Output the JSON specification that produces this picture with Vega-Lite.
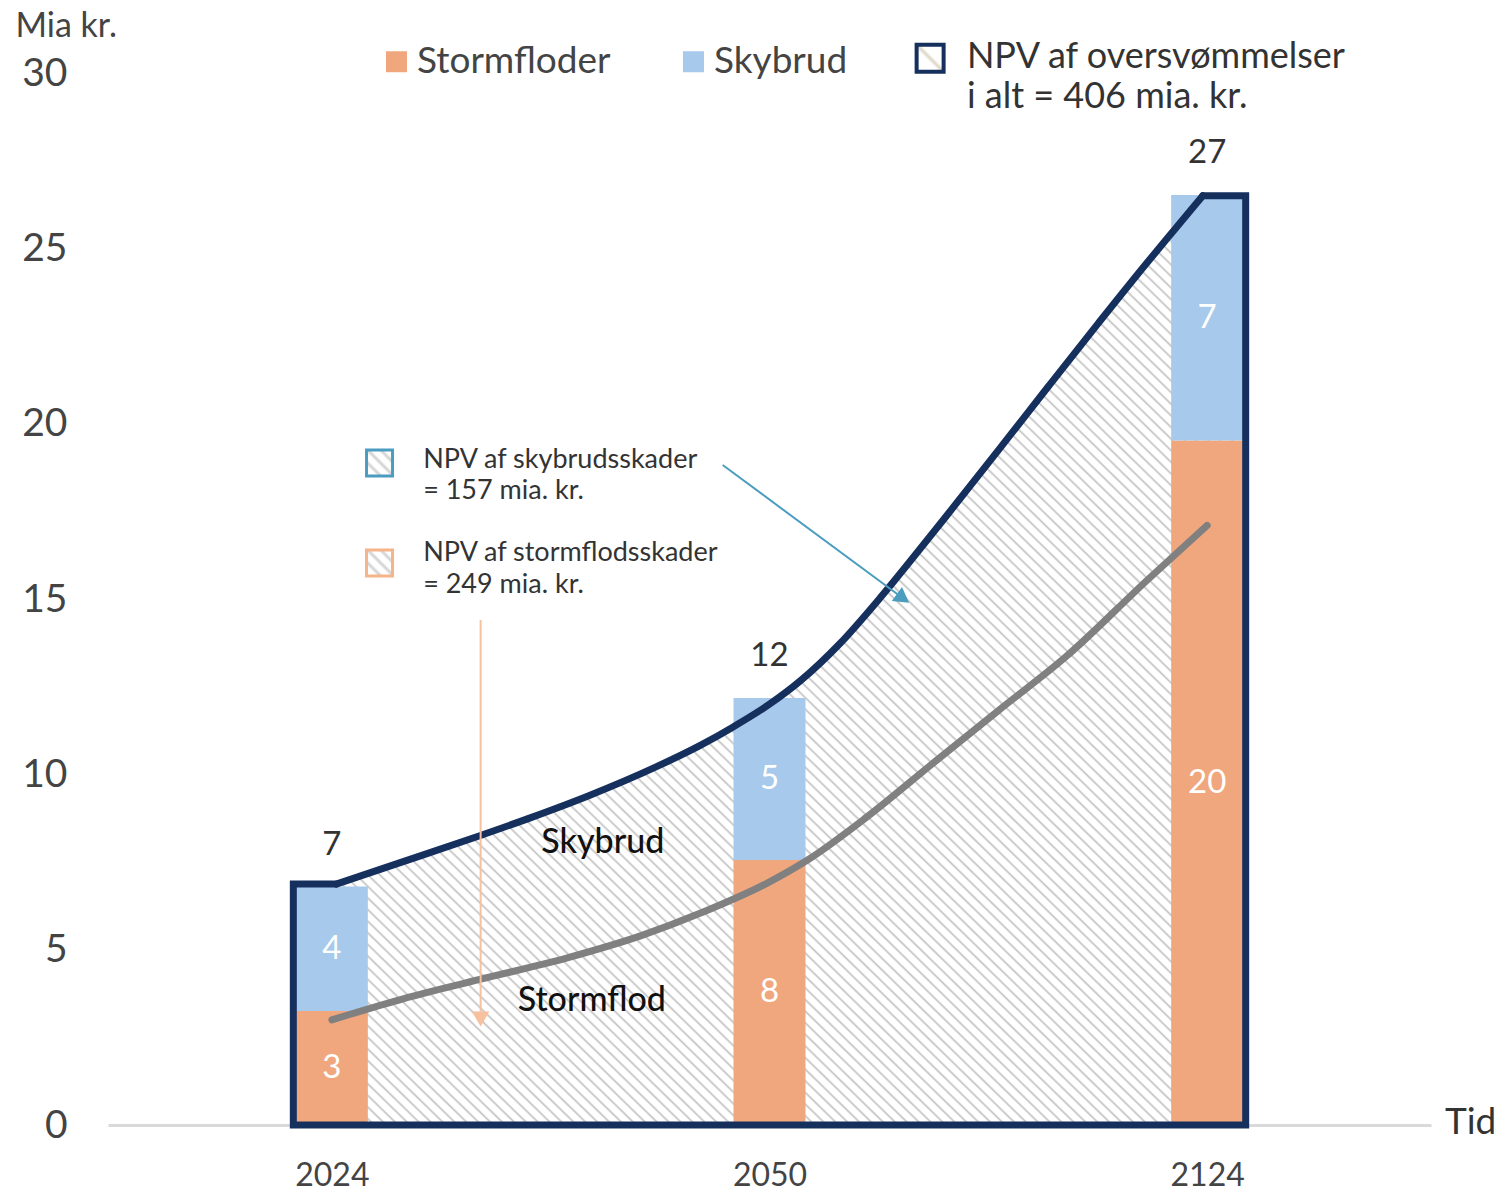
{
"$schema":"https://vega.github.io/schema/vega-lite/v6.json",
"width":1323,"height":1052,
"autosize":{"type":"none"},
"padding":{"left":108,"top":73,"right":78,"bottom":68},
"background":"white",
"config":{"view":{"stroke":null},"font":"Lato","axis":{"grid":false,"ticks":false}},
"datasets":{
"bars":[
{"t":0,"year":"2024","type":"Stormfloder","value":3.25},
{"t":0,"year":"2024","type":"Skybrud","value":3.55},
{"t":1,"year":"2050","type":"Stormfloder","value":7.56},
{"t":1,"year":"2050","type":"Skybrud","value":4.62},
{"t":2,"year":"2124","type":"Stormfloder","value":19.52},
{"t":2,"year":"2124","type":"Skybrud","value":7.0}],
"curve":[
{"t":-0.088,"v":6.87,"part":"end"},
{"t":0.01,"v":6.87,"part":"top"},
{"t":0.163,"v":7.51,"part":"top"},
{"t":0.338,"v":8.25,"part":"top"},
{"t":0.458,"v":8.78,"part":"top"},
{"t":0.587,"v":9.39,"part":"top"},
{"t":0.737,"v":10.19,"part":"top"},
{"t":0.844,"v":10.84,"part":"top"},
{"t":0.918,"v":11.36,"part":"top"},
{"t":1.0,"v":12.0,"part":"top"},
{"t":1.07,"v":12.66,"part":"top"},
{"t":1.161,"v":13.73,"part":"top"},
{"t":1.252,"v":15.02,"part":"top"},
{"t":1.33,"v":16.21,"part":"top"},
{"t":1.41,"v":17.46,"part":"top"},
{"t":1.524,"v":19.26,"part":"top"},
{"t":1.637,"v":21.06,"part":"top"},
{"t":1.751,"v":22.86,"part":"top"},
{"t":1.864,"v":24.61,"part":"top"},
{"t":1.93,"v":25.6,"part":"top"},
{"t":1.99,"v":26.5,"part":"top"},
{"t":2.088,"v":26.5,"part":"end"}],
"edges":[
{"i":0,"t":0.01,"v":6.87},
{"i":1,"t":-0.088,"v":6.87},
{"i":2,"t":-0.088,"v":0},
{"i":3,"t":2.088,"v":0},
{"i":4,"t":2.088,"v":26.5},
{"i":5,"t":1.99,"v":26.5}],
"gray":[
{"t":0,"v":3.0},{"t":0.163,"v":3.6},{"t":0.338,"v":4.15},{"t":0.542,"v":4.78},{"t":0.707,"v":5.4},{"t":0.844,"v":6.05},{"t":0.995,"v":6.9},{"t":1.086,"v":7.55},{"t":1.222,"v":8.78},{"t":1.372,"v":10.3},{"t":1.524,"v":11.83},{"t":1.676,"v":13.34},{"t":1.864,"v":15.55},{"t":2.0,"v":17.1}]
},
"layer":[
{"data":{"name":"curve"},
"mark":{"type":"area","interpolate":"linear","fill":{"gradient":"linear","x1":0,"y1":1,"x2":1,"y2":0,"stops":[
{"offset":0,"color":"#fff"},{"offset":0.00375,"color":"#fff"},{"offset":0.005,"color":"#c2c2c2"},{"offset":0.00625,"color":"#fff"},{"offset":0.01,"color":"#fff"},{"offset":0.01125,"color":"#c2c2c2"},{"offset":0.0125,"color":"#fff"},{"offset":0.01625,"color":"#fff"},{"offset":0.0175,"color":"#c2c2c2"},{"offset":0.01875,"color":"#fff"},{"offset":0.0225,"color":"#fff"},{"offset":0.02375,"color":"#c2c2c2"},{"offset":0.025,"color":"#fff"},{"offset":0.02875,"color":"#fff"},{"offset":0.03,"color":"#c2c2c2"},{"offset":0.03125,"color":"#fff"},{"offset":0.035,"color":"#fff"},{"offset":0.03625,"color":"#c2c2c2"},{"offset":0.0375,"color":"#fff"},{"offset":0.04125,"color":"#fff"},{"offset":0.0425,"color":"#c2c2c2"},{"offset":0.04375,"color":"#fff"},{"offset":0.0475,"color":"#fff"},{"offset":0.04875,"color":"#c2c2c2"},
{"offset":0.05,"color":"#fff"},{"offset":0.05375,"color":"#fff"},{"offset":0.055,"color":"#c2c2c2"},{"offset":0.05625,"color":"#fff"},{"offset":0.06,"color":"#fff"},{"offset":0.06125,"color":"#c2c2c2"},{"offset":0.0625,"color":"#fff"},{"offset":0.06625,"color":"#fff"},{"offset":0.0675,"color":"#c2c2c2"},{"offset":0.06875,"color":"#fff"},{"offset":0.0725,"color":"#fff"},{"offset":0.07375,"color":"#c2c2c2"},{"offset":0.075,"color":"#fff"},{"offset":0.07875,"color":"#fff"},{"offset":0.08,"color":"#c2c2c2"},{"offset":0.08125,"color":"#fff"},{"offset":0.085,"color":"#fff"},{"offset":0.08625,"color":"#c2c2c2"},{"offset":0.0875,"color":"#fff"},{"offset":0.09125,"color":"#fff"},{"offset":0.0925,"color":"#c2c2c2"},{"offset":0.09375,"color":"#fff"},{"offset":0.0975,"color":"#fff"},{"offset":0.09875,"color":"#c2c2c2"},
{"offset":0.1,"color":"#fff"},{"offset":0.10375,"color":"#fff"},{"offset":0.105,"color":"#c2c2c2"},{"offset":0.10625,"color":"#fff"},{"offset":0.11,"color":"#fff"},{"offset":0.11125,"color":"#c2c2c2"},{"offset":0.1125,"color":"#fff"},{"offset":0.11625,"color":"#fff"},{"offset":0.1175,"color":"#c2c2c2"},{"offset":0.11875,"color":"#fff"},{"offset":0.1225,"color":"#fff"},{"offset":0.12375,"color":"#c2c2c2"},{"offset":0.125,"color":"#fff"},{"offset":0.12875,"color":"#fff"},{"offset":0.13,"color":"#c2c2c2"},{"offset":0.13125,"color":"#fff"},{"offset":0.135,"color":"#fff"},{"offset":0.13625,"color":"#c2c2c2"},{"offset":0.1375,"color":"#fff"},{"offset":0.14125,"color":"#fff"},{"offset":0.1425,"color":"#c2c2c2"},{"offset":0.14375,"color":"#fff"},{"offset":0.1475,"color":"#fff"},{"offset":0.14875,"color":"#c2c2c2"},
{"offset":0.15,"color":"#fff"},{"offset":0.15375,"color":"#fff"},{"offset":0.155,"color":"#c2c2c2"},{"offset":0.15625,"color":"#fff"},{"offset":0.16,"color":"#fff"},{"offset":0.16125,"color":"#c2c2c2"},{"offset":0.1625,"color":"#fff"},{"offset":0.16625,"color":"#fff"},{"offset":0.1675,"color":"#c2c2c2"},{"offset":0.16875,"color":"#fff"},{"offset":0.1725,"color":"#fff"},{"offset":0.17375,"color":"#c2c2c2"},{"offset":0.175,"color":"#fff"},{"offset":0.17875,"color":"#fff"},{"offset":0.18,"color":"#c2c2c2"},{"offset":0.18125,"color":"#fff"},{"offset":0.185,"color":"#fff"},{"offset":0.18625,"color":"#c2c2c2"},{"offset":0.1875,"color":"#fff"},{"offset":0.19125,"color":"#fff"},{"offset":0.1925,"color":"#c2c2c2"},{"offset":0.19375,"color":"#fff"},{"offset":0.1975,"color":"#fff"},{"offset":0.19875,"color":"#c2c2c2"},
{"offset":0.2,"color":"#fff"},{"offset":0.20375,"color":"#fff"},{"offset":0.205,"color":"#c2c2c2"},{"offset":0.20625,"color":"#fff"},{"offset":0.21,"color":"#fff"},{"offset":0.21125,"color":"#c2c2c2"},{"offset":0.2125,"color":"#fff"},{"offset":0.21625,"color":"#fff"},{"offset":0.2175,"color":"#c2c2c2"},{"offset":0.21875,"color":"#fff"},{"offset":0.2225,"color":"#fff"},{"offset":0.22375,"color":"#c2c2c2"},{"offset":0.225,"color":"#fff"},{"offset":0.22875,"color":"#fff"},{"offset":0.23,"color":"#c2c2c2"},{"offset":0.23125,"color":"#fff"},{"offset":0.235,"color":"#fff"},{"offset":0.23625,"color":"#c2c2c2"},{"offset":0.2375,"color":"#fff"},{"offset":0.24125,"color":"#fff"},{"offset":0.2425,"color":"#c2c2c2"},{"offset":0.24375,"color":"#fff"},{"offset":0.2475,"color":"#fff"},{"offset":0.24875,"color":"#c2c2c2"},
{"offset":0.25,"color":"#fff"},{"offset":0.25375,"color":"#fff"},{"offset":0.255,"color":"#c2c2c2"},{"offset":0.25625,"color":"#fff"},{"offset":0.26,"color":"#fff"},{"offset":0.26125,"color":"#c2c2c2"},{"offset":0.2625,"color":"#fff"},{"offset":0.26625,"color":"#fff"},{"offset":0.2675,"color":"#c2c2c2"},{"offset":0.26875,"color":"#fff"},{"offset":0.2725,"color":"#fff"},{"offset":0.27375,"color":"#c2c2c2"},{"offset":0.275,"color":"#fff"},{"offset":0.27875,"color":"#fff"},{"offset":0.28,"color":"#c2c2c2"},{"offset":0.28125,"color":"#fff"},{"offset":0.285,"color":"#fff"},{"offset":0.28625,"color":"#c2c2c2"},{"offset":0.2875,"color":"#fff"},{"offset":0.29125,"color":"#fff"},{"offset":0.2925,"color":"#c2c2c2"},{"offset":0.29375,"color":"#fff"},{"offset":0.2975,"color":"#fff"},{"offset":0.29875,"color":"#c2c2c2"},
{"offset":0.3,"color":"#fff"},{"offset":0.30375,"color":"#fff"},{"offset":0.305,"color":"#c2c2c2"},{"offset":0.30625,"color":"#fff"},{"offset":0.31,"color":"#fff"},{"offset":0.31125,"color":"#c2c2c2"},{"offset":0.3125,"color":"#fff"},{"offset":0.31625,"color":"#fff"},{"offset":0.3175,"color":"#c2c2c2"},{"offset":0.31875,"color":"#fff"},{"offset":0.3225,"color":"#fff"},{"offset":0.32375,"color":"#c2c2c2"},{"offset":0.325,"color":"#fff"},{"offset":0.32875,"color":"#fff"},{"offset":0.33,"color":"#c2c2c2"},{"offset":0.33125,"color":"#fff"},{"offset":0.335,"color":"#fff"},{"offset":0.33625,"color":"#c2c2c2"},{"offset":0.3375,"color":"#fff"},{"offset":0.34125,"color":"#fff"},{"offset":0.3425,"color":"#c2c2c2"},{"offset":0.34375,"color":"#fff"},{"offset":0.3475,"color":"#fff"},{"offset":0.34875,"color":"#c2c2c2"},
{"offset":0.35,"color":"#fff"},{"offset":0.35375,"color":"#fff"},{"offset":0.355,"color":"#c2c2c2"},{"offset":0.35625,"color":"#fff"},{"offset":0.36,"color":"#fff"},{"offset":0.36125,"color":"#c2c2c2"},{"offset":0.3625,"color":"#fff"},{"offset":0.36625,"color":"#fff"},{"offset":0.3675,"color":"#c2c2c2"},{"offset":0.36875,"color":"#fff"},{"offset":0.3725,"color":"#fff"},{"offset":0.37375,"color":"#c2c2c2"},{"offset":0.375,"color":"#fff"},{"offset":0.37875,"color":"#fff"},{"offset":0.38,"color":"#c2c2c2"},{"offset":0.38125,"color":"#fff"},{"offset":0.385,"color":"#fff"},{"offset":0.38625,"color":"#c2c2c2"},{"offset":0.3875,"color":"#fff"},{"offset":0.39125,"color":"#fff"},{"offset":0.3925,"color":"#c2c2c2"},{"offset":0.39375,"color":"#fff"},{"offset":0.3975,"color":"#fff"},{"offset":0.39875,"color":"#c2c2c2"},
{"offset":0.4,"color":"#fff"},{"offset":0.40375,"color":"#fff"},{"offset":0.405,"color":"#c2c2c2"},{"offset":0.40625,"color":"#fff"},{"offset":0.41,"color":"#fff"},{"offset":0.41125,"color":"#c2c2c2"},{"offset":0.4125,"color":"#fff"},{"offset":0.41625,"color":"#fff"},{"offset":0.4175,"color":"#c2c2c2"},{"offset":0.41875,"color":"#fff"},{"offset":0.4225,"color":"#fff"},{"offset":0.42375,"color":"#c2c2c2"},{"offset":0.425,"color":"#fff"},{"offset":0.42875,"color":"#fff"},{"offset":0.43,"color":"#c2c2c2"},{"offset":0.43125,"color":"#fff"},{"offset":0.435,"color":"#fff"},{"offset":0.43625,"color":"#c2c2c2"},{"offset":0.4375,"color":"#fff"},{"offset":0.44125,"color":"#fff"},{"offset":0.4425,"color":"#c2c2c2"},{"offset":0.44375,"color":"#fff"},{"offset":0.4475,"color":"#fff"},{"offset":0.44875,"color":"#c2c2c2"},
{"offset":0.45,"color":"#fff"},{"offset":0.45375,"color":"#fff"},{"offset":0.455,"color":"#c2c2c2"},{"offset":0.45625,"color":"#fff"},{"offset":0.46,"color":"#fff"},{"offset":0.46125,"color":"#c2c2c2"},{"offset":0.4625,"color":"#fff"},{"offset":0.46625,"color":"#fff"},{"offset":0.4675,"color":"#c2c2c2"},{"offset":0.46875,"color":"#fff"},{"offset":0.4725,"color":"#fff"},{"offset":0.47375,"color":"#c2c2c2"},{"offset":0.475,"color":"#fff"},{"offset":0.47875,"color":"#fff"},{"offset":0.48,"color":"#c2c2c2"},{"offset":0.48125,"color":"#fff"},{"offset":0.485,"color":"#fff"},{"offset":0.48625,"color":"#c2c2c2"},{"offset":0.4875,"color":"#fff"},{"offset":0.49125,"color":"#fff"},{"offset":0.4925,"color":"#c2c2c2"},{"offset":0.49375,"color":"#fff"},{"offset":0.4975,"color":"#fff"},{"offset":0.49875,"color":"#c2c2c2"},
{"offset":0.5,"color":"#fff"},{"offset":0.50375,"color":"#fff"},{"offset":0.505,"color":"#c2c2c2"},{"offset":0.50625,"color":"#fff"},{"offset":0.51,"color":"#fff"},{"offset":0.51125,"color":"#c2c2c2"},{"offset":0.5125,"color":"#fff"},{"offset":0.51625,"color":"#fff"},{"offset":0.5175,"color":"#c2c2c2"},{"offset":0.51875,"color":"#fff"},{"offset":0.5225,"color":"#fff"},{"offset":0.52375,"color":"#c2c2c2"},{"offset":0.525,"color":"#fff"},{"offset":0.52875,"color":"#fff"},{"offset":0.53,"color":"#c2c2c2"},{"offset":0.53125,"color":"#fff"},{"offset":0.535,"color":"#fff"},{"offset":0.53625,"color":"#c2c2c2"},{"offset":0.5375,"color":"#fff"},{"offset":0.54125,"color":"#fff"},{"offset":0.5425,"color":"#c2c2c2"},{"offset":0.54375,"color":"#fff"},{"offset":0.5475,"color":"#fff"},{"offset":0.54875,"color":"#c2c2c2"},
{"offset":0.55,"color":"#fff"},{"offset":0.55375,"color":"#fff"},{"offset":0.555,"color":"#c2c2c2"},{"offset":0.55625,"color":"#fff"},{"offset":0.56,"color":"#fff"},{"offset":0.56125,"color":"#c2c2c2"},{"offset":0.5625,"color":"#fff"},{"offset":0.56625,"color":"#fff"},{"offset":0.5675,"color":"#c2c2c2"},{"offset":0.56875,"color":"#fff"},{"offset":0.5725,"color":"#fff"},{"offset":0.57375,"color":"#c2c2c2"},{"offset":0.575,"color":"#fff"},{"offset":0.57875,"color":"#fff"},{"offset":0.58,"color":"#c2c2c2"},{"offset":0.58125,"color":"#fff"},{"offset":0.585,"color":"#fff"},{"offset":0.58625,"color":"#c2c2c2"},{"offset":0.5875,"color":"#fff"},{"offset":0.59125,"color":"#fff"},{"offset":0.5925,"color":"#c2c2c2"},{"offset":0.59375,"color":"#fff"},{"offset":0.5975,"color":"#fff"},{"offset":0.59875,"color":"#c2c2c2"},
{"offset":0.6,"color":"#fff"},{"offset":0.60375,"color":"#fff"},{"offset":0.605,"color":"#c2c2c2"},{"offset":0.60625,"color":"#fff"},{"offset":0.61,"color":"#fff"},{"offset":0.61125,"color":"#c2c2c2"},{"offset":0.6125,"color":"#fff"},{"offset":0.61625,"color":"#fff"},{"offset":0.6175,"color":"#c2c2c2"},{"offset":0.61875,"color":"#fff"},{"offset":0.6225,"color":"#fff"},{"offset":0.62375,"color":"#c2c2c2"},{"offset":0.625,"color":"#fff"},{"offset":0.62875,"color":"#fff"},{"offset":0.63,"color":"#c2c2c2"},{"offset":0.63125,"color":"#fff"},{"offset":0.635,"color":"#fff"},{"offset":0.63625,"color":"#c2c2c2"},{"offset":0.6375,"color":"#fff"},{"offset":0.64125,"color":"#fff"},{"offset":0.6425,"color":"#c2c2c2"},{"offset":0.64375,"color":"#fff"},{"offset":0.6475,"color":"#fff"},{"offset":0.64875,"color":"#c2c2c2"},
{"offset":0.65,"color":"#fff"},{"offset":0.65375,"color":"#fff"},{"offset":0.655,"color":"#c2c2c2"},{"offset":0.65625,"color":"#fff"},{"offset":0.66,"color":"#fff"},{"offset":0.66125,"color":"#c2c2c2"},{"offset":0.6625,"color":"#fff"},{"offset":0.66625,"color":"#fff"},{"offset":0.6675,"color":"#c2c2c2"},{"offset":0.66875,"color":"#fff"},{"offset":0.6725,"color":"#fff"},{"offset":0.67375,"color":"#c2c2c2"},{"offset":0.675,"color":"#fff"},{"offset":0.67875,"color":"#fff"},{"offset":0.68,"color":"#c2c2c2"},{"offset":0.68125,"color":"#fff"},{"offset":0.685,"color":"#fff"},{"offset":0.68625,"color":"#c2c2c2"},{"offset":0.6875,"color":"#fff"},{"offset":0.69125,"color":"#fff"},{"offset":0.6925,"color":"#c2c2c2"},{"offset":0.69375,"color":"#fff"},{"offset":0.6975,"color":"#fff"},{"offset":0.69875,"color":"#c2c2c2"},
{"offset":0.7,"color":"#fff"},{"offset":0.70375,"color":"#fff"},{"offset":0.705,"color":"#c2c2c2"},{"offset":0.70625,"color":"#fff"},{"offset":0.71,"color":"#fff"},{"offset":0.71125,"color":"#c2c2c2"},{"offset":0.7125,"color":"#fff"},{"offset":0.71625,"color":"#fff"},{"offset":0.7175,"color":"#c2c2c2"},{"offset":0.71875,"color":"#fff"},{"offset":0.7225,"color":"#fff"},{"offset":0.72375,"color":"#c2c2c2"},{"offset":0.725,"color":"#fff"},{"offset":0.72875,"color":"#fff"},{"offset":0.73,"color":"#c2c2c2"},{"offset":0.73125,"color":"#fff"},{"offset":0.735,"color":"#fff"},{"offset":0.73625,"color":"#c2c2c2"},{"offset":0.7375,"color":"#fff"},{"offset":0.74125,"color":"#fff"},{"offset":0.7425,"color":"#c2c2c2"},{"offset":0.74375,"color":"#fff"},{"offset":0.7475,"color":"#fff"},{"offset":0.74875,"color":"#c2c2c2"},
{"offset":0.75,"color":"#fff"},{"offset":0.75375,"color":"#fff"},{"offset":0.755,"color":"#c2c2c2"},{"offset":0.75625,"color":"#fff"},{"offset":0.76,"color":"#fff"},{"offset":0.76125,"color":"#c2c2c2"},{"offset":0.7625,"color":"#fff"},{"offset":0.76625,"color":"#fff"},{"offset":0.7675,"color":"#c2c2c2"},{"offset":0.76875,"color":"#fff"},{"offset":0.7725,"color":"#fff"},{"offset":0.77375,"color":"#c2c2c2"},{"offset":0.775,"color":"#fff"},{"offset":0.77875,"color":"#fff"},{"offset":0.78,"color":"#c2c2c2"},{"offset":0.78125,"color":"#fff"},{"offset":0.785,"color":"#fff"},{"offset":0.78625,"color":"#c2c2c2"},{"offset":0.7875,"color":"#fff"},{"offset":0.79125,"color":"#fff"},{"offset":0.7925,"color":"#c2c2c2"},{"offset":0.79375,"color":"#fff"},{"offset":0.7975,"color":"#fff"},{"offset":0.79875,"color":"#c2c2c2"},
{"offset":0.8,"color":"#fff"},{"offset":0.80375,"color":"#fff"},{"offset":0.805,"color":"#c2c2c2"},{"offset":0.80625,"color":"#fff"},{"offset":0.81,"color":"#fff"},{"offset":0.81125,"color":"#c2c2c2"},{"offset":0.8125,"color":"#fff"},{"offset":0.81625,"color":"#fff"},{"offset":0.8175,"color":"#c2c2c2"},{"offset":0.81875,"color":"#fff"},{"offset":0.8225,"color":"#fff"},{"offset":0.82375,"color":"#c2c2c2"},{"offset":0.825,"color":"#fff"},{"offset":0.82875,"color":"#fff"},{"offset":0.83,"color":"#c2c2c2"},{"offset":0.83125,"color":"#fff"},{"offset":0.835,"color":"#fff"},{"offset":0.83625,"color":"#c2c2c2"},{"offset":0.8375,"color":"#fff"},{"offset":0.84125,"color":"#fff"},{"offset":0.8425,"color":"#c2c2c2"},{"offset":0.84375,"color":"#fff"},{"offset":0.8475,"color":"#fff"},{"offset":0.84875,"color":"#c2c2c2"},
{"offset":0.85,"color":"#fff"},{"offset":0.85375,"color":"#fff"},{"offset":0.855,"color":"#c2c2c2"},{"offset":0.85625,"color":"#fff"},{"offset":0.86,"color":"#fff"},{"offset":0.86125,"color":"#c2c2c2"},{"offset":0.8625,"color":"#fff"},{"offset":0.86625,"color":"#fff"},{"offset":0.8675,"color":"#c2c2c2"},{"offset":0.86875,"color":"#fff"},{"offset":0.8725,"color":"#fff"},{"offset":0.87375,"color":"#c2c2c2"},{"offset":0.875,"color":"#fff"},{"offset":0.87875,"color":"#fff"},{"offset":0.88,"color":"#c2c2c2"},{"offset":0.88125,"color":"#fff"},{"offset":0.885,"color":"#fff"},{"offset":0.88625,"color":"#c2c2c2"},{"offset":0.8875,"color":"#fff"},{"offset":0.89125,"color":"#fff"},{"offset":0.8925,"color":"#c2c2c2"},{"offset":0.89375,"color":"#fff"},{"offset":0.8975,"color":"#fff"},{"offset":0.89875,"color":"#c2c2c2"},
{"offset":0.9,"color":"#fff"},{"offset":0.90375,"color":"#fff"},{"offset":0.905,"color":"#c2c2c2"},{"offset":0.90625,"color":"#fff"},{"offset":0.91,"color":"#fff"},{"offset":0.91125,"color":"#c2c2c2"},{"offset":0.9125,"color":"#fff"},{"offset":0.91625,"color":"#fff"},{"offset":0.9175,"color":"#c2c2c2"},{"offset":0.91875,"color":"#fff"},{"offset":0.9225,"color":"#fff"},{"offset":0.92375,"color":"#c2c2c2"},{"offset":0.925,"color":"#fff"},{"offset":0.92875,"color":"#fff"},{"offset":0.93,"color":"#c2c2c2"},{"offset":0.93125,"color":"#fff"},{"offset":0.935,"color":"#fff"},{"offset":0.93625,"color":"#c2c2c2"},{"offset":0.9375,"color":"#fff"},{"offset":0.94125,"color":"#fff"},{"offset":0.9425,"color":"#c2c2c2"},{"offset":0.94375,"color":"#fff"},{"offset":0.9475,"color":"#fff"},{"offset":0.94875,"color":"#c2c2c2"},
{"offset":0.95,"color":"#fff"},{"offset":0.95375,"color":"#fff"},{"offset":0.955,"color":"#c2c2c2"},{"offset":0.95625,"color":"#fff"},{"offset":0.96,"color":"#fff"},{"offset":0.96125,"color":"#c2c2c2"},{"offset":0.9625,"color":"#fff"},{"offset":0.96625,"color":"#fff"},{"offset":0.9675,"color":"#c2c2c2"},{"offset":0.96875,"color":"#fff"},{"offset":0.9725,"color":"#fff"},{"offset":0.97375,"color":"#c2c2c2"},{"offset":0.975,"color":"#fff"},{"offset":0.97875,"color":"#fff"},{"offset":0.98,"color":"#c2c2c2"},{"offset":0.98125,"color":"#fff"},{"offset":0.985,"color":"#fff"},{"offset":0.98625,"color":"#c2c2c2"},{"offset":0.9875,"color":"#fff"},{"offset":0.99125,"color":"#fff"},{"offset":0.9925,"color":"#c2c2c2"},{"offset":0.99375,"color":"#fff"},{"offset":0.9975,"color":"#fff"},{"offset":0.99875,"color":"#c2c2c2"},
{"offset":1,"color":"#fff"}]}},
"encoding":{
"x":{"field":"t","type":"quantitative","scale":{"domain":[-0.5,2.5],"nice":false,"zero":false},
"axis":{"title":null,"values":[0,1,2],"labelExpr":"datum.value == 0 ? '2024' : datum.value == 1 ? '2050' : '2124'","labelFontSize":32,"labelColor":"#444","labelFont":"Lato","labelPadding":35,"domainColor":"#d9d9d9","domainWidth":3,"ticks":false,"grid":false}},
"y":{"field":"v","type":"quantitative","scale":{"domain":[0,30],"nice":false},
"axis":{"title":"Mia kr.","titleAngle":0,"titleAlign":"left","titleBaseline":"middle","titleX":-93,"titleY":-47,"titleFontSize":34,"titleFontWeight":"normal","titleColor":"#444","titleFont":"Lato","values":[0,5,10,15,20,25,30],"labelFontSize":39,"labelColor":"#444","labelFont":"Lato","labelPadding":41,"domain":false,"ticks":false,"grid":false}}}},
{"data":{"name":"bars"},
"mark":{"type":"bar","width":72},
"encoding":{
"x":{"field":"t","type":"quantitative"},
"y":{"field":"value","type":"quantitative","stack":"zero"},
"color":{"field":"type","type":"nominal","scale":{"domain":["Stormfloder","Skybrud"],"range":["#F0A77E","#A6C9EC"]},
"legend":{"title":null,"orient":"none","legendX":270,"legendY":-30,"direction":"horizontal","symbolType":"square","symbolSize":441,"symbolStrokeWidth":0,"labelFontSize":37,"labelColor":"#444","labelFont":"Lato","labelOffset":2,"labelLimit":500,"columnPadding":64,"padding":0}},
"order":{"field":"type","sort":"descending"}}},
{"data":{"name":"gray"},
"mark":{"type":"line","interpolate":"monotone","color":"#808080","strokeWidth":7,"strokeCap":"round"},
"encoding":{"x":{"field":"t","type":"quantitative"},"y":{"field":"v","type":"quantitative"}}},
{"data":{"name":"curve"},
"transform":[{"filter":"datum.part == 'top'"}],
"mark":{"type":"line","interpolate":"monotone","color":"#16305E","strokeWidth":7,"strokeCap":"round"},
"encoding":{"x":{"field":"t","type":"quantitative"},"y":{"field":"v","type":"quantitative"}}},
{"data":{"name":"edges"},
"mark":{"type":"line","interpolate":"linear","color":"#16305E","strokeWidth":7,"strokeJoin":"miter","strokeCap":"round"},
"encoding":{"x":{"field":"t","type":"quantitative"},"y":{"field":"v","type":"quantitative"},"order":{"field":"i","type":"quantitative"}}},
{"data":{"name":"bars"},
"transform":[
{"stack":"value","groupby":["t"],"sort":[{"field":"type","order":"descending"}],"as":["v0","v1"]},
{"fold":["v0","v1"],"as":["k","edge"]},
{"aggregate":[{"op":"mean","field":"edge","as":"v"},{"op":"max","field":"value","as":"val"}],"groupby":["t","type"]}],
"mark":{"type":"text","color":"white","fontSize":33,"baseline":"middle","align":"center"},
"encoding":{"x":{"field":"t","type":"quantitative"},"y":{"field":"v","type":"quantitative"},"text":{"field":"val","type":"quantitative","format":".0f"}}},
{"data":{"name":"bars"},
"transform":[{"aggregate":[{"op":"sum","field":"value","as":"v"}],"groupby":["t"]}],
"mark":{"type":"text","color":"#333","fontSize":33,"baseline":"middle","align":"center","dy":-42},
"encoding":{"x":{"field":"t","type":"quantitative"},"y":{"field":"v","type":"quantitative"},"text":{"field":"v","type":"quantitative","format":".0f"}}},
{"data":{"values":[{"t":0.893,"v":18.82,"t2":1.305,"v2":15.02}]},
"mark":{"type":"rule","color":"#4A9DBF","strokeWidth":2},
"encoding":{"x":{"field":"t","type":"quantitative"},"y":{"field":"v","type":"quantitative"},"x2":{"field":"t2"},"y2":{"field":"v2"}}},
{"data":{"values":[{"t":1.305,"v":15.02}]},
"mark":{"type":"point","shape":"triangle-right","angle":36,"size":300,"filled":true,"color":"#4A9DBF","opacity":1},
"encoding":{"x":{"field":"t","type":"quantitative"},"y":{"field":"v","type":"quantitative"}}},
{"data":{"values":[{"t":0.34,"v":14.4,"t2":0.34,"v2":3.2}]},
"mark":{"type":"rule","color":"#F7C09E","strokeWidth":2},
"encoding":{"x":{"field":"t","type":"quantitative"},"y":{"field":"v","type":"quantitative"},"x2":{"field":"t2"},"y2":{"field":"v2"}}},
{"data":{"values":[{"t":0.34,"v":3.02}]},
"mark":{"type":"point","shape":"triangle-down","size":300,"filled":true,"color":"#F7C09E","opacity":1},
"encoding":{"x":{"field":"t","type":"quantitative"},"y":{"field":"v","type":"quantitative"}}},
{"data":{"values":[{"t":0.109,"v":18.88}]},
"mark":{"type":"point","shape":"square","size":676,"strokeWidth":3,"stroke":"#4A9DBF","opacity":1,"filled":false,"fill":{"gradient":"linear","x1":0,"y1":1,"x2":1,"y2":0,"stops":[{"offset":0,"color":"#fff"},{"offset":0.2,"color":"#fff"},{"offset":0.27,"color":"#cfcfcf"},{"offset":0.34,"color":"#fff"},{"offset":0.45,"color":"#fff"},{"offset":0.52,"color":"#cfcfcf"},{"offset":0.59,"color":"#fff"},{"offset":0.7,"color":"#fff"},{"offset":0.77,"color":"#cfcfcf"},{"offset":0.84,"color":"#fff"},{"offset":1,"color":"#fff"}]}},
"encoding":{"x":{"field":"t","type":"quantitative"},"y":{"field":"v","type":"quantitative"}}},
{"data":{"values":[{"t":0.109,"v":16.03}]},
"mark":{"type":"point","shape":"square","size":676,"strokeWidth":3,"stroke":"#F5B48A","opacity":1,"filled":false,"fill":{"gradient":"linear","x1":0,"y1":1,"x2":1,"y2":0,"stops":[{"offset":0,"color":"#fff"},{"offset":0.2,"color":"#fff"},{"offset":0.27,"color":"#cfcfcf"},{"offset":0.34,"color":"#fff"},{"offset":0.45,"color":"#fff"},{"offset":0.52,"color":"#cfcfcf"},{"offset":0.59,"color":"#fff"},{"offset":0.7,"color":"#fff"},{"offset":0.77,"color":"#cfcfcf"},{"offset":0.84,"color":"#fff"},{"offset":1,"color":"#fff"}]}},
"encoding":{"x":{"field":"t","type":"quantitative"},"y":{"field":"v","type":"quantitative"}}},
{"data":{"values":[{"t":1.367,"v":30.42}]},
"mark":{"type":"point","shape":"square","size":729,"strokeWidth":4,"stroke":"#16305E","opacity":1,"filled":false,"fill":{"gradient":"linear","x1":0,"y1":1,"x2":1,"y2":0,"stops":[{"offset":0,"color":"#fff"},{"offset":0.42,"color":"#fff"},{"offset":0.5,"color":"#ddd5c5"},{"offset":0.58,"color":"#fff"},{"offset":1,"color":"#fff"}]}},
"encoding":{"x":{"field":"t","type":"quantitative"},"y":{"field":"v","type":"quantitative"}}},
{"data":{"values":[
{"t":0.2086,"v":18.96,"txt":"NPV af skybrudsskader"},
{"t":0.2086,"v":18.08,"txt":"= 157 mia. kr."},
{"t":0.2086,"v":16.31,"txt":"NPV af stormflodsskader"},
{"t":0.2086,"v":15.4,"txt":"=  249 mia. kr."}]},
"mark":{"type":"text","align":"left","baseline":"middle","fontSize":27,"color":"#333"},
"encoding":{"x":{"field":"t","type":"quantitative"},"y":{"field":"v","type":"quantitative"},"text":{"field":"txt"}}},
{"data":{"values":[
{"t":0.619,"v":8.04,"txt":"Skybrud"},
{"t":0.594,"v":3.54,"txt":"Stormflod"}]},
"mark":{"type":"text","align":"center","baseline":"middle","fontSize":34,"fontWeight":500,"color":"#111"},
"encoding":{"x":{"field":"t","type":"quantitative"},"y":{"field":"v","type":"quantitative"},"text":{"field":"txt"}}},
{"data":{"values":[
{"t":1.451,"v":30.45,"txt":"NPV af oversvømmelser"},
{"t":1.451,"v":29.31,"txt":"i alt = 406 mia. kr."}]},
"mark":{"type":"text","align":"left","baseline":"middle","fontSize":36,"color":"#333"},
"encoding":{"x":{"field":"t","type":"quantitative"},"y":{"field":"v","type":"quantitative"},"text":{"field":"txt"}}},
{"data":{"values":[{"t":2.5,"v":0,"txt":"Tid"}]},
"mark":{"type":"text","align":"left","baseline":"middle","fontSize":37,"color":"#333","dx":19,"dy":-2},
"encoding":{"x":{"field":"t","type":"quantitative"},"y":{"field":"v","type":"quantitative"},"text":{"field":"txt"}}}
]
}
